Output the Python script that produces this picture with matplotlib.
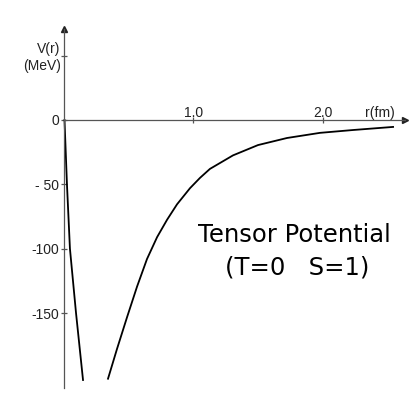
import matplotlib.pyplot as plt

# Tensor potential V(r) (r in fm, V in MeV)
r_inner = [0.004, 0.023, 0.046, 0.093, 0.147]
v_inner = [0, -50, -100, -150, -202]
r_outer = [0.340, 0.409, 0.486, 0.564, 0.641, 0.719, 0.796, 0.873, 0.973,
           1.050, 1.127, 1.305, 1.498, 1.722, 1.977, 2.232, 2.541]
v_outer = [-201, -178, -153.5, -129.5, -108, -91, -77.5, -65.5, -53,
           -45, -38, -27.5, -19.5, -14, -10, -7.8, -5.4]

y_ticks = [50, 0, -50, -100, -150]
y_labels = ['', '0', '- 50', '-100', '-150']
x_ticks = [1.0, 2.0]
x_labels = ['1.0', '2.0']

x_end = 2.63
y_top = 71
y_bottom = -208

fig = plt.figure(figsize=(4.16, 4.19), dpi=100)
ax = fig.add_axes([0, 0, 1, 1])
ax.set_xlim(-0.494, 2.718)
ax.set_ylim(-232.3, 93.2)

# axes drawn through the origin
for side in ['top', 'right']:
    ax.spines[side].set_visible(False)
ax.spines['left'].set_position(('data', 0))
ax.spines['bottom'].set_position(('data', 0))
ax.spines['left'].set_bounds(y_bottom, y_top)
ax.spines['bottom'].set_bounds(0, x_end)
for side in ['left', 'bottom']:
    ax.spines[side].set_color('#555555')
    ax.spines[side].set_linewidth(0.9)

ax.plot(x_end, 0, marker='>', ms=4, color='#222222', clip_on=False)
ax.plot(0, y_top, marker='^', ms=4, color='#222222', clip_on=False)

lab_font = dict(family='Liberation Sans', fontsize=10, color='#222222')

ax.set_yticks(y_ticks)
ax.set_yticklabels(y_labels, **lab_font)
ax.set_xticks(x_ticks)
ax.set_xticklabels([])
ax.tick_params(axis='both', direction='inout', length=5, width=0.9,
               color='#555555', pad=1)

for x, s in zip(x_ticks, x_labels):
    ax.text(x, 2, s, ha='center', va='baseline', **lab_font)
ax.text(2.556, 2, 'r(fm)', ha='right', va='baseline', **lab_font)
ax.text(-0.03, 52, 'V(r)', ha='right', va='baseline', **lab_font)
ax.text(-0.02, 39, '(MeV)', ha='right', va='baseline', **lab_font)

ax.plot(r_inner, v_inner, color='black', lw=1.3)
ax.plot(r_outer, v_outer, color='black', lw=1.3)

ax.text(1.776, -94.8, 'Tensor Potential', ha='center', va='baseline',
        fontsize=17.5, family='DejaVu Sans')
ax.text(1.80, -120.4, '(T=0   S=1)', ha='center', va='baseline',
        fontsize=17.5, family='DejaVu Sans')

fig.savefig('out.png', dpi=100)
